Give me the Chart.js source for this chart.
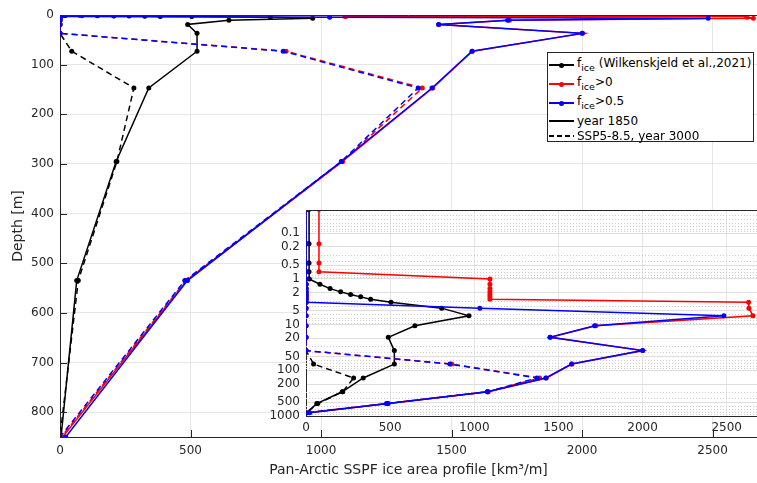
<!DOCTYPE html>
<html>
<head>
<meta charset="utf-8">
<script src="https://cdn.jsdelivr.net/npm/chart.js@4.4.1/dist/chart.umd.min.js"></script>
<style>
  body { margin: 0; background: #fff; }
  #wrap { position: relative; width: 757px; height: 483px; overflow: hidden; font-family: "DejaVu Sans", sans-serif; }
  #main { position: absolute; left: 0; top: 0; }
  #inset { position: absolute; left: 262px; top: 200px; }
  #legend { position: absolute; left: 547px; top: 52px; width: 205px; height: 88px; border: 1px solid #262626; background: #fff; font-size: 12px; color: #000; }
  .row { position: absolute; left: 0; width: 205px; height: 14px; }
  .ln { position: absolute; left: 1px; width: 25px; height: 1.5px; top: 6px; }
  .dot { position: absolute; left: 11px; top: 4.5px; width: 5px; height: 5px; border-radius: 50%; }
  .tx { position: absolute; left: 29px; top: 0; line-height: 14px; white-space: nowrap; }
  .tx sub { font-size: 9.5px; vertical-align: -4px; line-height: 0; }
</style>
</head>
<body>
<div id="wrap">
  <canvas id="main" width="757" height="483"></canvas>
  <canvas id="inset" width="495" height="236"></canvas>
  <div id="legend">
    <div class="row" style="top:5px"><div class="ln" style="background:#000"></div><div class="dot" style="background:#000"></div><span class="tx" style="top:-2px">f<sub>ice</sub> (Wilkenskjeld et al.,2021)</span></div>
    <div class="row" style="top:24px"><div class="ln" style="background:#f00"></div><div class="dot" style="background:#f00"></div><span class="tx" style="top:-2px">f<sub>ice</sub>&gt;0</span></div>
    <div class="row" style="top:43px"><div class="ln" style="background:#00f"></div><div class="dot" style="background:#00f"></div><span class="tx" style="top:-2px">f<sub>ice</sub>&gt;0.5</span></div>
    <div class="row" style="top:61px"><div class="ln" style="background:#000"></div><span class="tx">year 1850</span></div>
    <div class="row" style="top:76px"><div class="ln" style="background:repeating-linear-gradient(90deg,#000 0 5px,transparent 5px 8px)"></div><span class="tx">SSP5-8.5, year 3000</span></div>
  </div>
</div>
<script>
// model depth levels [m]
const depth = [0.03, 0.17, 0.45, 0.7, 1.0, 1.31, 1.63, 1.92, 2.2, 2.47, 2.77, 3.23, 4.36, 6.43, 10.6, 19, 37, 73, 147, 295, 535, 850];

// year 1850
const wilk1850 = [18, 18, 18, 18, 20, 83, 143, 206, 265, 325, 384, 505, 806, 968, 647, 489, 525, 525, 340, 215, 64, 4];
const gt0_1850 = [77, 77, 77, 77, 1093, 1093, 1093, 1093, 1093, 1093, 1093, 2630, 2632, 2656, 1722, 1452, 2002, 1580, 1428, 1082, 486, 10];
const gt05_1850 = [0, 0, 0, 0, 0, 0, 0, 0, 0, 0, 0, 0, 1033, 2483, 1715, 1450, 2000, 1578, 1425, 1078, 488, 22];

// SSP5-8.5, year 3000
const wilk3000 = [0, 0, 0, 0, 0, 0, 0, 0, 0, 0, 0, 0, 0, 0, 0, 0, 0, 45, 283, 218, 70, 0];
const gt0_3000 = [0, 0, 0, 0, 0, 0, 0, 0, 0, 0, 0, 0, 0, 0, 0, 0, 0, 866, 1388, 1082, 482, 5];
const gt05_3000 = [0, 0, 0, 0, 0, 0, 0, 0, 0, 0, 0, 0, 0, 0, 0, 0, 0, 855, 1372, 1078, 478, 0];

const xTicks = [0, 500, 1000, 1500, 2000, 2500];
const yTicks = [0, 100, 200, 300, 400, 500, 600, 700, 800];
const yInsetLabels = [0.1, 0.2, 0.5, 1, 2, 5, 10, 20, 50, 100, 200, 500, 1000];

Chart.defaults.font.family = '"DejaVu Sans", sans-serif';
Chart.defaults.color = '#262626';
Chart.defaults.animation = false;

const txt = '#262626';
const gridCol = '#e6e6e6';

function pts(vals) {
  return depth.map((d, i) => ({ x: vals[i], y: d }));
}

function series(vals, color, dashed, order) {
  return {
    data: pts(vals),
    borderColor: color,
    backgroundColor: color,
    pointBackgroundColor: color,
    pointBorderColor: color,
    pointRadius: 2.5,
    pointBorderWidth: 0,
    borderWidth: 1.5,
    borderDash: dashed ? [6, 4] : [],
    showLine: true,
    tension: 0,
    order: order,
  };
}

function allSeries() {
  return [
    series(gt05_1850, '#0000ff', false, 1),
    series(gt05_3000, '#0000ff', true, 2),
    series(gt0_1850, '#ff0000', false, 3),
    series(gt0_3000, '#ff0000', true, 4),
    series(wilk1850, '#000000', false, 5),
    series(wilk3000, '#000000', true, 6),
  ];
}

// top box line, inward ticks and dotted minor grid, matlab style
const boxPlugin = {
  id: 'box',
  beforeDraw(chart, args, opts) {
    if (!opts.fill) return;
    const a = chart.chartArea;
    chart.ctx.save();
    chart.ctx.fillStyle = '#fff';
    chart.ctx.fillRect(a.left, a.top, a.right - a.left, a.bottom - a.top);
    chart.ctx.restore();
  },
  beforeDatasetsDraw(chart, args, opts) {
    if (!opts.minor) return;
    const { ctx, chartArea: a } = chart;
    const ys = chart.scales.y;
    ctx.save();
    ctx.strokeStyle = '#cfcfcf';
    ctx.lineWidth = 1;
    ctx.setLineDash([1, 2]);
    ctx.beginPath();
    ys.ticks.forEach(t => {
      if (yInsetLabels.includes(t.value)) return;
      const py = Math.round(ys.getPixelForValue(t.value)) + 0.5;
      ctx.moveTo(a.left, py);
      ctx.lineTo(a.right, py);
    });
    ctx.stroke();
    ctx.restore();
  },
  afterDraw(chart, args, opts) {
    const { ctx, chartArea: a } = chart;
    ctx.save();
    ctx.strokeStyle = txt;
    ctx.lineWidth = 1;
    ctx.beginPath();
    ctx.moveTo(a.left, Math.round(a.top) + 0.5);
    ctx.lineTo(a.right, Math.round(a.top) + 0.5);
    if (opts.ticks) {
      const xs = chart.scales.x, ys = chart.scales.y;
      xs.ticks.forEach(t => {
        const px = Math.round(xs.getPixelForValue(t.value)) + 0.5;
        ctx.moveTo(px, a.bottom);
        ctx.lineTo(px, a.bottom - 7);
      });
      ys.ticks.forEach(t => {
        const py = Math.round(ys.getPixelForValue(t.value)) + 0.5;
        ctx.moveTo(a.left, py);
        ctx.lineTo(a.left + 7, py);
      });
    }
    ctx.stroke();
    ctx.restore();
  }
};

new Chart(document.getElementById('main'), {
  type: 'scatter',
  data: { datasets: allSeries() },
  options: {
    responsive: false,
    devicePixelRatio: 1,
    layout: { autoPadding: false, padding: { top: 15, left: 0, right: 0, bottom: 0 } },
    plugins: { legend: { display: false }, tooltip: { enabled: false }, box: { ticks: true } },
    scales: {
      x: {
        type: 'linear',
        min: 0,
        max: 2670,
        afterBuildTicks: s => { s.ticks = xTicks.map(v => ({ value: v })); },
        afterFit: s => { s.height = 46; s.paddingLeft = 0; s.paddingRight = 0; },
        ticks: { padding: 7, font: { size: 12 }, color: txt, callback: v => String(v) },
        grid: { color: gridCol, drawTicks: false },
        border: { color: txt },
        title: { display: true, text: 'Pan-Arctic SSPF ice area profile [km³/m]', font: { size: 14 }, color: txt, padding: { top: 0, bottom: 4 } },
      },
      y: {
        type: 'linear',
        reverse: true,
        min: 0,
        max: 850,
        afterBuildTicks: s => { s.ticks = yTicks.map(v => ({ value: v })); },
        afterFit: s => { s.width = 60; s.paddingTop = 0; s.paddingBottom = 0; },
        ticks: { padding: 6, font: { size: 12 }, color: txt, callback: v => String(v) },
        grid: { color: gridCol, drawTicks: false },
        border: { color: txt },
        title: { display: true, text: 'Depth [m]', font: { size: 14 }, color: txt, padding: { top: 10, bottom: 0 } },
      },
    },
  },
  plugins: [boxPlugin],
});

// inset: same curves on a log depth axis
const insetYTicks = [];
[0.01, 0.1, 1, 10, 100].forEach(b => {
  for (let m = 1; m <= 9; m++) {
    const v = +(m * b).toPrecision(3);
    if (v >= 0.031 && v <= 1000) insetYTicks.push(v);
  }
});
insetYTicks.push(1000);

new Chart(document.getElementById('inset'), {
  type: 'scatter',
  data: { datasets: allSeries() },
  options: {
    responsive: false,
    devicePixelRatio: 1,
    layout: { autoPadding: false, padding: { top: 10, left: 0, right: 0, bottom: 0 } },
    plugins: { legend: { display: false }, tooltip: { enabled: false }, box: { fill: true, minor: true } },
    scales: {
      x: {
        type: 'linear',
        min: 0,
        max: 2680,
        afterBuildTicks: s => { s.ticks = xTicks.map(v => ({ value: v })); },
        afterFit: s => { s.height = 20; s.paddingLeft = 0; s.paddingRight = 0; },
        ticks: { padding: 5, font: { size: 12 }, color: txt, callback: v => String(v) },
        grid: { color: gridCol, drawTicks: false },
        border: { color: txt },
      },
      y: {
        type: 'logarithmic',
        reverse: true,
        min: 0.031,
        max: 1000,
        afterBuildTicks: s => { s.ticks = insetYTicks.map(v => ({ value: v })); },
        afterFit: s => { s.width = 44; s.paddingTop = 0; s.paddingBottom = 0; },
        ticks: {
          autoSkip: false,
          padding: 6,
          font: { size: 12 },
          color: txt,
          callback: v => (yInsetLabels.includes(v) ? String(v) : ''),
        },
        grid: {
          drawTicks: false,
          color: c => (c.tick && yInsetLabels.includes(c.tick.value) ? '#dedede' : 'rgba(0,0,0,0)'),
        },
        border: { color: txt },
      },
    },
  },
  plugins: [boxPlugin],
});
</script>
</body>
</html>
